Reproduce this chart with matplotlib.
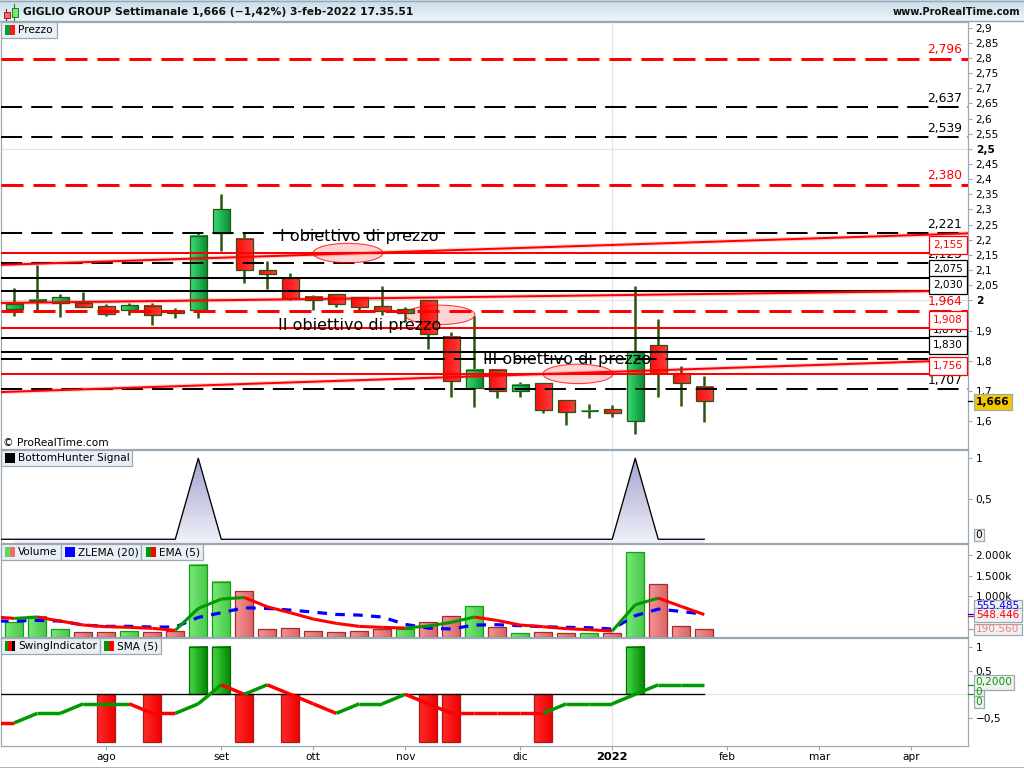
import numpy as np
import matplotlib
matplotlib.use("Agg")
import matplotlib.pyplot as plt
from matplotlib.colors import LinearSegmentedColormap
from matplotlib.patches import Ellipse, Rectangle, Polygon

# weekly candles
candle_open = [1.970, 1.998, 1.991, 1.991, 1.980, 1.967, 1.980, 1.966, 1.967, 2.223, 2.202, 2.099, 2.075, 2.010, 2.020, 2.010,
               1.980, 1.959, 2.000, 1.879, 1.709, 1.769, 1.699, 1.726, 1.670, 1.635, 1.640, 1.602, 1.851, 1.759, 1.713]
candle_close = [1.989, 2.002, 2.010, 1.979, 1.954, 1.983, 1.950, 1.957, 2.212, 2.301, 2.099, 2.088, 2.009, 2.000, 1.987, 1.977,
                1.964, 1.970, 1.890, 1.732, 1.769, 1.699, 1.719, 1.639, 1.632, 1.636, 1.629, 1.833, 1.759, 1.726, 1.666]
candle_high = [2.040, 2.117, 2.021, 2.028, 1.988, 1.990, 1.990, 1.974, 2.221, 2.351, 2.221, 2.129, 2.089, 2.017, 2.020, 2.010,
               2.047, 1.977, 2.000, 1.895, 1.948, 1.769, 1.729, 1.726, 1.670, 1.657, 1.654, 2.047, 1.938, 1.783, 1.750]
candle_low = [1.949, 1.968, 1.946, 1.979, 1.949, 1.952, 1.919, 1.943, 1.943, 2.164, 2.058, 2.038, 2.001, 1.968, 1.977, 1.968,
              1.952, 1.929, 1.840, 1.682, 1.648, 1.678, 1.682, 1.629, 1.589, 1.612, 1.615, 1.559, 1.682, 1.652, 1.599]

dashed_red = [2.796, 2.380, 1.964]
dashed_black = [2.637, 2.539, 2.221, 2.123, 1.805, 1.707]
solid_black = [2.075, 2.030, 1.876, 1.830]
solid_red = [2.155, 1.908, 1.756]
trend_lines = [(2.117, 2.221), (1.991, 2.032), (1.697, 1.803)]
target_labels = ["I obiettivo di prezzo", "II obiettivo di prezzo", "III obiettivo di prezzo"]
target_label_x = [11.55, 11.45, 20.4]
target_label_y = [2.211, 1.917, 1.804]
ellipse_x = [14.51, 18.51, 24.51]
ellipse_y = [2.156, 1.952, 1.757]

price_ticks = [2.9, 2.85, 2.8, 2.75, 2.7, 2.65, 2.6, 2.55, 2.5, 2.45, 2.4, 2.35, 2.3, 2.25, 2.2, 2.15, 2.1, 2.05, 2.0, 1.9, 1.8, 1.7, 1.6]

bottom_hunter = [0, 0, 0, 0, 0, 0, 0, 0, 1, 0, 0, 0, 0, 0, 0, 0, 0, 0, 0, 0, 0, 0, 0, 0, 0, 0, 0, 1, 0, 0, 0]

volume = [357, 503, 187, 114, 114, 138, 114, 138, 1768, 1354, 1111, 187, 211, 138, 114, 146,
          195, 195, 365, 511, 754, 243, 97, 122, 97, 97, 97, 2068, 1290, 268, 190.56]
# the two averages and the SMA start one week before the first visible candle
ema5 = [495, 454, 487, 389, 292, 251, 235, 211, 162, 697, 925, 965, 738, 592, 438, 333,
        259, 235, 219, 268, 357, 487, 405, 292, 251, 203, 178, 146, 787, 949, 746, 548]
zlema20 = [389, 389, 405, 389, 292, 260, 260, 243, 243, 478, 592, 714, 697, 657, 608, 551,
           535, 487, 308, 219, 195, 292, 300, 276, 251, 235, 227, 195, 519, 681, 624, 555]

swing = [0, 0, 0, 0, -1, 0, -1, 0, 1, 1, -1, 0, -1, 0, 0, 0, 0, 0, -1, -1, 0, 0, 0, -1, 0, 0, 0, 1, 0, 0, 0]
sma5 = [-0.6, -0.6, -0.4, -0.4, -0.2, -0.2, -0.2, -0.4, -0.4, -0.2, 0.2, 0, 0.2, 0, -0.2, -0.4,
        -0.2, -0.2, 0, -0.2, -0.4, -0.4, -0.4, -0.4, -0.4, -0.2, -0.2, -0.2, 0, 0.2, 0.2, 0.2]

month_ticks = [4, 9, 13, 17, 22, 26, 31, 35, 39]
month_labels = ["ago", "set", "ott", "nov", "dic", "2022", "feb", "mar", "apr"]

FRAME = "#9aa9b3"
GRID = "#e0e3ec"
WICK = "#28560f"
GREEN = "#009a00"
XMIN, XMAX = -0.578, 41.47
PX = 0.72  # points per pixel at dpi 100

weeks = np.arange(len(candle_open))
line_weeks = np.arange(-1, len(candle_open))


def gradient_rect(ax, x0, x1, y0, y1, c0, c1, horizontal=True, zorder=2):
    cmap = LinearSegmentedColormap.from_list("g", [c0, c1])
    ramp = np.linspace(0, 1, 24)
    ramp = ramp.reshape(1, -1) if horizontal else ramp.reshape(-1, 1)
    return ax.imshow(ramp, extent=[x0, x1, y0, y1], origin="lower", aspect="auto", cmap=cmap,
                     vmin=0, vmax=1, zorder=zorder, interpolation="nearest")


def panel(top, bottom, ylim):
    ax = fig.add_axes([1 / 1024, 1 - bottom / 768, 967 / 1024, (bottom - top) / 768])
    ax.set_xlim(XMIN, XMAX)
    ax.set_ylim(*ylim)
    ax.yaxis.tick_right()
    ax.set_xticks([])
    for s in ax.spines.values():
        s.set_color(FRAME)
        s.set_linewidth(0.9)
    ax.tick_params(axis="y", colors=FRAME, length=3, width=0.8, pad=2.5, labelcolor="black", labelsize=7.6)
    ax.axvline(month_ticks[5], color=GRID, lw=0.9, zorder=0)
    return ax


def slope_line(ax, x, y, lw=2.2):
    color = "red"
    for i in range(len(x) - 1):
        if y[i + 1] > y[i]:
            color = GREEN
        elif y[i + 1] < y[i]:
            color = "red"
        ax.plot(x[i:i + 2], y[i:i + 2], color=color, lw=lw, zorder=5, solid_capstyle="butt")


def comma(v):
    return f"{v:g}".replace(".", ",").replace("-", "\u2212")


def level_label(ax, level, dy, boxed=None, color="black"):
    # dy is the offset in pixels above the level
    text = f"{level:.3f}".replace(".", ",")
    if boxed:
        ax.annotate(text, xy=(40.6, level), xytext=(0, dy * PX), textcoords="offset points", ha="center", va="center",
                    fontsize=7.5, color=color, zorder=8,
                    bbox=dict(boxstyle="square,pad=0.38", fc="white", ec=boxed, lw=0.9))
    else:
        ax.annotate(text, xy=(41.23, level), xytext=(0, dy * PX), textcoords="offset points", ha="right", va="center",
                    fontsize=8.8, color=color, zorder=7)


def tab(x0, x1, y0, y1, label, text_x, icon_x, icon_colors):
    over.add_patch(Rectangle((x0, y0), x1 - x0, y1 - y0, fc="#e9eff4", ec=FRAME, lw=0.9, zorder=10))
    w = 10 / len(icon_colors)
    for k, c in enumerate(icon_colors):
        over.add_patch(Rectangle((icon_x + k * w, y0 + 3), w, 10, fc=c, ec="none", zorder=11))
    over.text(text_x, (y0 + y1) / 2 + 0.3, label, fontsize=7.6, va="center", ha="left", zorder=11)


def value_tag(x0, x1, y0, y1, text, color, fc="#f1f1f1", **kw):
    over.add_patch(Rectangle((x0, y0), x1 - x0, y1 - y0, fc=fc, ec=FRAME, lw=0.9, zorder=12))
    over.text((x0 + x1) / 2, (y0 + y1) / 2 + 0.3, text, color=color, fontsize=7.6, ha="center", va="center", zorder=13, **kw)


fig = plt.figure(figsize=(10.24, 7.68), dpi=100, facecolor="white")
plt.rcParams["font.family"] = "DejaVu Sans"

# price panel
ax1 = panel(22, 449, (1.509, 2.919))
ax1.axhline(2.5, color=GRID, lw=0.9, zorder=0)
ax1.axhline(2.0, color=GRID, lw=0.9, zorder=0)
ax1.set_yticks(price_ticks)
ax1.set_yticklabels([comma(v) for v in price_ticks])
for lab, v in zip(ax1.get_yticklabels(), price_ticks):
    if v in (2.5, 2.0):
        lab.set_fontweight("bold")

for i in weeks:
    up = candle_close[i] >= candle_open[i]
    lo, hi = sorted((candle_open[i], candle_close[i]))
    ax1.plot([i, i], [candle_low[i], candle_high[i]], color=WICK, lw=1.8, zorder=2, solid_capstyle="butt")
    if up:
        gradient_rect(ax1, i - 0.37, i + 0.37, lo, hi, "#3bdc74", "#068c33", zorder=3)
    else:
        gradient_rect(ax1, i - 0.37, i + 0.37, lo, hi, "#ff0d0d", "#ff3a3a", zorder=3)
    ax1.add_patch(Rectangle((i - 0.37, lo), 0.74, hi - lo, fc="none", ec=WICK, lw=0.9, zorder=3.5))

for v in dashed_black:
    ax1.plot([XMIN, XMAX], [v, v], color="black", lw=1.45, dashes=(21 / 2, 9 / 2), zorder=4)
for v in dashed_red:
    ax1.plot([XMIN, XMAX], [v, v], color="red", lw=2.16, dashes=(22 / 3, 10 / 3), zorder=4)
for v in solid_black:
    ax1.axhline(v, color="black", lw=1.45, zorder=4)
for v in solid_red:
    ax1.axhline(v, color="red", lw=1.45, zorder=5)
for left, right in trend_lines:
    ax1.plot([XMIN, XMAX], [left, right], color="red", lw=3.2, alpha=0.16, zorder=4.5)
    ax1.plot([XMIN, XMAX], [left, right], color="red", lw=1.45, zorder=5)

for ex, ey in zip(ellipse_x, ellipse_y):
    ax1.add_patch(Ellipse((ex, ey), 3.04, 0.064, fc=(1, 0, 0, 0.17), ec=(1, 0, 0, 0.75), lw=0.8, zorder=6))
for label, tx, ty in zip(target_labels, target_label_x, target_label_y):
    ax1.text(tx, ty, label, fontsize=11.5, ha="left", va="center", color="black", zorder=6.5)

for v in dashed_red:
    level_label(ax1, v, 9.5, color="red")
for v in dashed_black:
    level_label(ax1, v, 8.5)
level_label(ax1, 2.075, 8.5, boxed="black")
level_label(ax1, 2.030, 6.5, boxed="black")
level_label(ax1, 1.876, 8, boxed="black")
level_label(ax1, 1.830, 7, boxed="black")
level_label(ax1, 2.155, 8.5, boxed="red", color="red")
level_label(ax1, 1.908, 8, boxed="red", color="red")
level_label(ax1, 1.756, 8, boxed="red", color="red")
ax1.text(0.002, 0.0145, "\u00a9 ProRealTime.com", transform=ax1.transAxes, fontsize=7.6, va="center")

# BottomHunter panel
ax2 = panel(450, 543, (-0.046, 1.102))
ax2.set_yticks([1, 0.5])
ax2.set_yticklabels(["1", "0,5"])
im = gradient_rect(ax2, 0, 30, -0.046, 1.0, "#f0f0f8", "#a4a4cf", horizontal=False, zorder=1)
clip = Polygon(np.column_stack([np.r_[0, weeks, 30], np.r_[-0.046, bottom_hunter, -0.046]]), transform=ax2.transData, fc="none", ec="none")
ax2.add_patch(clip)
im.set_clip_path(clip)
ax2.plot(np.r_[XMIN, weeks], np.r_[0, bottom_hunter], color="black", lw=0.95, zorder=3)

# volume panel
ax3 = panel(544, 637, (0, 2270))
ax3.set_yticks([2000, 1500, 1000])
ax3.set_yticklabels(["2.000k", "1.500k", "1.000k"])
for i in weeks:
    up = candle_close[i] >= candle_open[i]
    c0, c1, edge = ("#78ea78", "#49c649", "#14a014") if up else ("#f59595", "#d96464", "#a92a2a")
    gradient_rect(ax3, i - 0.4, i + 0.4, 0, volume[i], c0, c1, horizontal=True, zorder=2)
    ax3.add_patch(Rectangle((i - 0.4, 0), 0.8, volume[i], fc="none", ec=edge, lw=0.9, zorder=2.5))
ax3.plot(line_weeks, zlema20, color="#0000ff", lw=2.3, dashes=(3, 2.6), zorder=4)
slope_line(ax3, line_weeks, ema5)

# swing panel
ax4 = panel(638, 746, (-1.086, 1.183))
ax4.set_yticks([1, 0.5, -0.5])
ax4.set_yticklabels(["1", "0,5", comma(-0.5)])
ax4.axhline(0, color=GRID, lw=0.9, zorder=0)
for i in weeks:
    if swing[i] > 0:
        gradient_rect(ax4, i - 0.4, i + 0.4, 0, swing[i], "#46d846", "#008600", zorder=2)
        ax4.add_patch(Rectangle((i - 0.4, 0), 0.8, swing[i], fc="none", ec="#0b6b0b", lw=0.9, zorder=2.5))
    elif swing[i] < 0:
        gradient_rect(ax4, i - 0.4, i + 0.4, swing[i], 0, "#ff2a2a", "#f00000", zorder=2)
        ax4.add_patch(Rectangle((i - 0.4, swing[i]), 0.8, -swing[i], fc="none", ec="#a81818", lw=0.9, zorder=2.5))
ax4.plot([XMIN, weeks[-1]], [0, 0], color="black", lw=0.95, zorder=3)
slope_line(ax4, line_weeks, sma5, lw=2.5)
ax4.set_xticks(month_ticks)
ax4.set_xticklabels(month_labels, fontsize=7.6)
ax4.tick_params(axis="x", colors=FRAME, length=3, width=0.8, pad=1.6, labelcolor="black")
ax4.get_xticklabels()[5].set_fontweight("bold")
ax4.get_xticklabels()[5].set_fontsize(8.2)

# window furniture, in pixels
over = fig.add_axes([0, 0, 1, 1], zorder=20)
over.set_xlim(0, 1024)
over.set_ylim(768, 0)
over.axis("off")
over.patch.set_alpha(0)

gradient_rect(over, 0, 1024, 21, 0, "#ecf4f9", "#c9dde9", horizontal=False, zorder=1)
over.set_xlim(0, 1024)
over.set_ylim(768, 0)
over.plot([0, 1024], [21, 21], color=FRAME, lw=1, zorder=2)
over.plot([0, 1024], [0.5, 0.5], color=FRAME, lw=1, zorder=2)
over.plot([0, 1024], [767.5, 767.5], color=FRAME, lw=1.2, zorder=2)
over.plot([6, 6], [9, 20], color="#a02020", lw=0.8, zorder=3)
over.add_patch(Rectangle((3.5, 11.5), 6, 6, fc="#f07070", ec="#a02020", lw=0.7, zorder=4))
over.plot([14, 14], [4, 20], color="#208020", lw=0.8, zorder=3)
over.add_patch(Rectangle((11.5, 7.5), 6, 9, fc="#70ec70", ec="#208020", lw=0.7, zorder=4))
over.text(23, 12, "GIGLIO GROUP Settimanale 1,666 (\u22121,42%) 3-feb-2022 17.35.51", fontsize=7.72, fontweight="bold",
          va="center", ha="left", color="#101010", zorder=5)
over.text(1020, 12, "www.ProRealTime.com", fontsize=7.1, fontweight="bold", va="center", ha="right", color="#101010", zorder=5)

tab(1, 57, 22, 38, "Prezzo", 18, 5, ["#0a9a3a", "#ff1a1a"])
tab(1, 131.5, 450, 466, "BottomHunter Signal", 18, 5, ["black"])
tab(1, 60.5, 544, 560, "Volume", 18, 5, ["#5ed85e", "#e87070"])
tab(60.5, 141, 544, 560, "ZLEMA (20)", 78, 65, ["#0000ff"])
tab(141, 203, 544, 560, "EMA (5)", 159, 146, ["#009a00", "#ff0000"])
tab(1, 99.5, 638, 654, "SwingIndicator", 18, 5, ["#009a00", "#ff0000", "black"])
tab(99.5, 161, 638, 654, "SMA (5)", 117, 104, ["#009a00", "#ff0000"])

value_tag(974, 1011.5, 394, 409.5, "1,666", "black", fc="#f3c800", fontweight="bold")
over.plot([968, 972], [401, 401], color="black", lw=0.9, zorder=11)
value_tag(974, 1022, 599.5, 611, "555.485", "#0000ff")
value_tag(974, 1022, 608, 621.5, "548.446", "red")
value_tag(974, 1022, 623.5, 634.5, "190.560", "#f08080")
over.plot([968, 973], [614, 614], color="#0000ff", lw=0.9, zorder=11)
over.plot([968, 973], [616, 616], color="red", lw=0.9, zorder=11)
over.plot([968, 973], [629, 629], color="#f08080", lw=0.9, zorder=11)
value_tag(974, 984, 529, 541, "0", "black")
value_tag(974, 984, 686, 698, "0", "#00a000")
value_tag(974, 984, 696, 708, "0", "#00a000")
value_tag(974, 1014, 674.5, 689.5, "0,2000", "#00a000")
over.plot([968, 973], [685, 685], color="#00a000", lw=0.9, zorder=11)
over.plot([968, 973], [694, 694], color="#00a000", lw=0.9, zorder=11)

fig.savefig("out.png", dpi=100)
